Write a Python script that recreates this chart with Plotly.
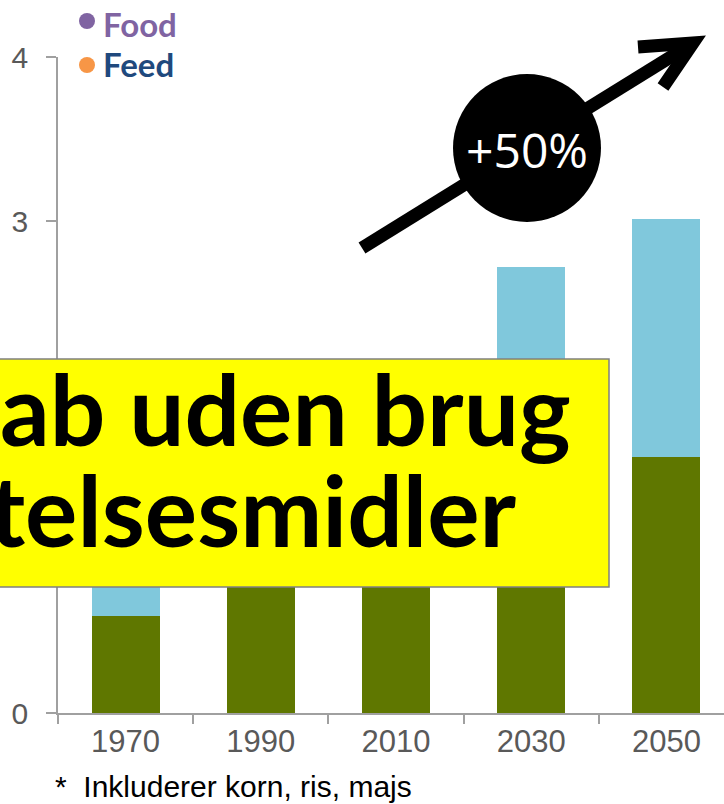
import plotly.graph_objects as go

years = ["1970", "1990", "2010", "2030", "2050"]
food = [0.59, 0.80, 0.95, 1.25, 1.56]
feed = [0.71, 0.95, 1.05, 1.47, 1.45]
y_ticks = [0, 3, 4]

W, H = 724, 804
L, R, T, B = 58, 0, 57, 91
PW, PH = W - L - R, H - T - B


def px(x):
    return (x - L) / PW


def py(y):
    return (H - B - y) / PH


fig = go.Figure()
fig.add_trace(go.Bar(x=years, y=food, name="Food", marker=dict(color="#5F7700", line=dict(width=0)), showlegend=False))
fig.add_trace(go.Bar(x=years, y=feed, name="Feed", marker=dict(color="#80C8DC", line=dict(width=0)), showlegend=False))

axis_col = "#A0A0A0"
fig.update_layout(
    width=W, height=H,
    margin=dict(l=L, r=R, t=T, b=B, pad=0),
    barmode="stack", bargap=0.497,
    plot_bgcolor="white", paper_bgcolor="white",
    showlegend=False,
    xaxis=dict(
        type="category", range=[-0.5, -0.5 + PW / 135.2],
        showline=True, linecolor=axis_col, linewidth=1.5,
        ticks="outside", tickson="boundaries", ticklen=9, tickcolor=axis_col, tickwidth=1.5,
        showgrid=False, zeroline=False,
        tickfont=dict(family="Liberation Sans, Arial", size=31, color="#595959"),
    ),
    yaxis=dict(
        range=[0, 4], tickvals=y_ticks,
        showline=True, linecolor=axis_col, linewidth=1.5,
        ticks="outside", ticklen=10, tickcolor=axis_col, tickwidth=1.5,
        showgrid=False, zeroline=False,
        ticklabelstandoff=12,
        tickfont=dict(family="Liberation Sans, Arial", size=30, color="#595959"),
    ),
)

shapes = []
# yellow box
shapes.append(dict(type="rect", xref="paper", yref="paper",
                   x0=px(-20), x1=px(609), y0=py(587), y1=py(359),
                   fillcolor="#FFFF00", line=dict(color="#808080", width=1.5), layer="above"))
# arrow line
shapes.append(dict(type="line", xref="paper", yref="paper",
                   x0=px(362), y0=py(248), x1=px(686), y1=py(47.5),
                   line=dict(color="black", width=13), layer="above"))
# chevron head
path = "M {} {} L {} {} L {} {}".format(px(638), py(47), px(693), py(43), px(663), py(87))
shapes.append(dict(type="path", xref="paper", yref="paper", path=path,
                   line=dict(color="black", width=13), layer="above"))
# circle
cx, cy, r = 527, 148, 74
shapes.append(dict(type="circle", xref="paper", yref="paper",
                   x0=px(cx - r), x1=px(cx + r), y0=py(cy + r), y1=py(cy - r),
                   fillcolor="black", line=dict(width=0), layer="above"))
# legend dots
for (dy, col) in [(21, "#8064A2"), (65, "#F79646")]:
    shapes.append(dict(type="circle", xref="paper", yref="paper",
                       x0=px(79), x1=px(95), y0=py(dy + 8), y1=py(dy - 8),
                       fillcolor=col, line=dict(width=0), layer="above"))
fig.update_layout(shapes=shapes)

ann = []
ann.append(dict(text="+50%", xref="paper", yref="paper", x=px(527), y=py(149),
                xanchor="center", yanchor="middle", showarrow=False,
                font=dict(family="Open Sans", size=48, color="white")))
ann.append(dict(text="<b>ab uden brug</b>", xref="paper", yref="paper", x=px(572), y=py(408),
                xanchor="right", yanchor="middle", showarrow=False, borderpad=0,
                font=dict(family="Lato", size=98, color="black", weight=900)))
ann.append(dict(text="<b>telsesmidler</b>", xref="paper", yref="paper", x=px(517), y=py(509),
                xanchor="right", yanchor="middle", showarrow=False, borderpad=0,
                font=dict(family="Lato", size=98, color="black", weight=900)))
ann.append(dict(text="<b>Food</b>", xref="paper", yref="paper", x=px(102), y=py(24),
                xanchor="left", yanchor="middle", showarrow=False, borderpad=0,
                font=dict(family="Lato", size=33, color="#8064A2")))
ann.append(dict(text="<b>Feed</b>", xref="paper", yref="paper", x=px(102), y=py(64),
                xanchor="left", yanchor="middle", showarrow=False, borderpad=0,
                font=dict(family="Lato", size=33, color="#1F497D")))
ann.append(dict(text="*\u00a0\u00a0Inkluderer korn, ris, majs", xref="paper", yref="paper",
                x=px(54), y=py(786), xanchor="left", yanchor="middle", showarrow=False, borderpad=0,
                font=dict(family="Liberation Sans, Arial", size=30, color="black")))
fig.update_layout(annotations=ann)

fig.write_html("out.html", config={"displayModeBar": False},
               post_script="document.body.style.margin='0';document.body.style.overflow='hidden';")
